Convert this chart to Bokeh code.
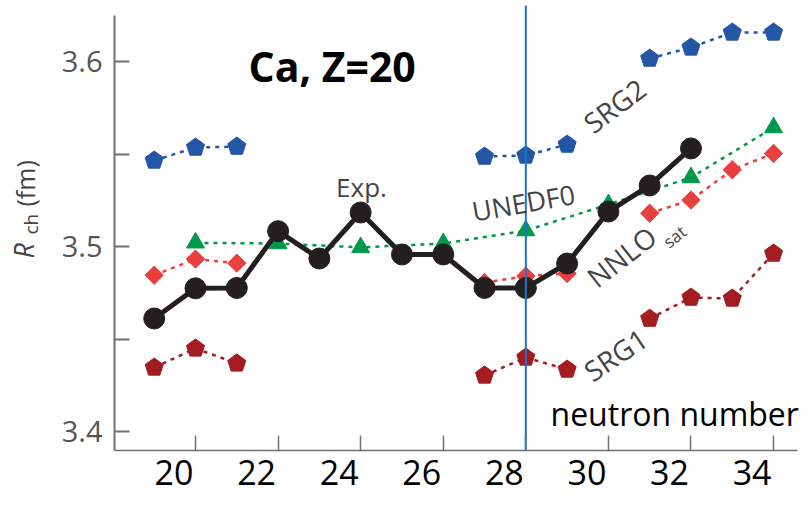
import math
from bokeh.plotting import figure
from bokeh.models import Range1d, LinearAxis, FixedTicker, Label, CustomLabelingPolicy
from bokeh.embed import file_html
from bokeh.resources import INLINE

nan = float("nan")

# ---- data -------------------------------------------------------------
neutrons = list(range(19, 35))            # N = 19 .. 34
exp_N = list(range(19, 33))               # N = 19 .. 32
exp_R = [3.4611, 3.4774, 3.4776, 3.5083, 3.4935, 3.5184, 3.4957, 3.4957,
         3.4776, 3.4776, 3.4908, 3.5189, 3.5330, 3.5530]
srg2_R = [3.5465, 3.5535, 3.5540, nan, nan, nan, nan, nan,
          3.5486, 3.5492, 3.5551, nan, 3.6016, 3.6076, 3.6157, 3.6157]
srg1_R = [3.4346, 3.4449, 3.4368, nan, nan, nan, nan, nan,
          3.4303, 3.4400, 3.4335, nan, 3.4610, 3.4724, 3.4719, 3.4962]
nnlo_R = [3.4845, 3.4932, 3.4910, nan, nan, nan, nan, nan,
          3.4805, 3.4840, 3.4854, nan, 3.5180, 3.5251, 3.5415, 3.5503]
unedf_N = [20, 22, 24, 26, 28, 30, 32, 34]
unedf_R = [3.5020, 3.5016, 3.4995, 3.5016, 3.5086, 3.5227, 3.5373, 3.5643]
x_ticks = [20, 22, 24, 26, 28, 30, 32, 34]
y_ticks = [3.4, 3.5, 3.6]
y_minor = [3.45, 3.55]
magic_N = [28]

# ---- layout helpers (picture pixel -> data) --------------------------
W, H = 811, 506
PXU = 41.29
PYU = 1850.0
def dx(px):
    return 20 + (px - 195) / PXU
def dy(py):
    return 3.5 - (py - 246) / PYU

BLUE = "#2456a6"
GREEN = "#00994c"
RED = "#e8403f"
DRED = "#a21c22"
BLACK = "#231f20"
GRAY = "#444444"
AXG = "#707070"

p = figure(width=W, height=H, x_range=Range1d(dx(0), dx(W)), y_range=Range1d(dy(H), dy(0)),
           output_backend="svg", toolbar_location=None, min_border=0,
           x_axis_location=None, y_axis_location=None)
p.grid.visible = False
p.outline_line_color = None

hide_all = CustomLabelingPolicy(code="")

# y axis (fixed inside the canvas)
ya = LinearAxis(fixed_location=dx(114), bounds=(dy(450), dy(15)),
                ticker=FixedTicker(ticks=y_ticks, minor_ticks=y_minor),
                major_tick_in=15, major_tick_out=0, minor_tick_in=15, minor_tick_out=0,
                axis_line_color=AXG, axis_line_width=2,
                major_tick_line_color=AXG, major_tick_line_width=2,
                minor_tick_line_color=AXG, minor_tick_line_width=2,
                major_label_text_font="Open Sans", major_label_text_font_size="29px",
                major_label_text_color="#555555", major_label_standoff=12)
p.add_layout(ya, "left")

# x axis: tick marks only
xa = LinearAxis(fixed_location=dy(450), bounds=(dx(114), dx(797)),
                ticker=FixedTicker(ticks=x_ticks),
                major_tick_in=15, major_tick_out=0, minor_tick_line_color=None,
                axis_line_color=AXG, axis_line_width=1.5,
                major_tick_line_color=AXG, major_tick_line_width=1.5,
                major_label_policy=hide_all, major_label_text_font_size="1px",
                major_label_standoff=0)
p.add_layout(xa, "below")

# x tick labels, set slightly left of the ticks as in the figure
p.extra_x_ranges = {"lab": Range1d(dx(0) + 0.52, dx(W) + 0.52)}
la = LinearAxis(x_range_name="lab", fixed_location=dy(450), ticker=FixedTicker(ticks=x_ticks),
                axis_line_color=None, major_tick_line_color=None, minor_tick_line_color=None,
                major_tick_in=0, major_tick_out=0,
                major_label_text_font="Open Sans", major_label_text_font_size="34px",
                major_label_text_color="black", major_label_standoff=9)
p.add_layout(la, "below")

# ---- theory lines -----------------------------------------------------
dash = "4 5"
p.line(neutrons, srg2_R, line_color=BLUE, line_width=2.5, line_dash=dash)
p.line(neutrons, srg1_R, line_color=DRED, line_width=2.5, line_dash=dash)
p.line(neutrons, nnlo_R, line_color=RED, line_width=2.5, line_dash=dash)
p.line(unedf_N, unedf_R, line_color=GREEN, line_width=2.5, line_dash=dash)

p.ngon(neutrons, srg2_R, radius=9.5, radius_units="screen", n=5, angle=0,
       fill_color=BLUE, line_color=BLUE)
p.ngon(neutrons, srg1_R, radius=9.5, radius_units="screen", n=5, angle=0,
       fill_color=DRED, line_color=DRED)
p.scatter(neutrons, nnlo_R, marker="square", size=13, angle=math.pi / 4,
          fill_color=RED, line_color=RED)
p.scatter(unedf_N, unedf_R, marker="triangle", size=18, fill_color=GREEN, line_color=GREEN)

# ---- experiment -------------------------------------------------------
p.line(exp_N, exp_R, line_color=BLACK, line_width=5)
p.scatter(exp_N, exp_R, marker="circle", size=21, fill_color=BLACK, line_color=BLACK)

# N = 28 shell closure marker
p.segment(x0=magic_N, y0=[dy(450)], x1=magic_N, y1=[dy(5)], line_color="#1c74d0", line_width=2)

# ---- texts ------------------------------------------------------------
def lab(text, px, py, size, color=GRAY, angle=0.0, align="center", style="normal"):
    p.add_layout(Label(x=dx(px), y=dy(py), text=text, text_font="Open Sans",
                       text_font_size=size, text_color=color, angle=math.radians(angle),
                       text_align=align, text_baseline="middle", text_font_style=style))

lab("Ca, Z=20", 248, 65, "41px", color="black", align="left", style="bold")
lab("neutron number", 550, 413, "32px", color="black", align="left")
lab("Exp.", 361, 186, "26px")
lab("UNEDF0", 523, 202, "27px", angle=10)
lab("SRG2", 614, 105, "28px", angle=37)
lab("NNLO", 621, 256, "28px", angle=38)
lab("sat", 674, 236, "17px", angle=38)
lab("SRG1", 615, 354, "28px", angle=34)
lab("R", 23, 258, "27px", angle=90, align="left", style="italic")
lab("ch", 30, 234, "19px", angle=90, align="left")
lab("(fm)", 24, 206, "25px", angle=90, align="left")

open("out.html", "w").write(file_html(p, INLINE))
